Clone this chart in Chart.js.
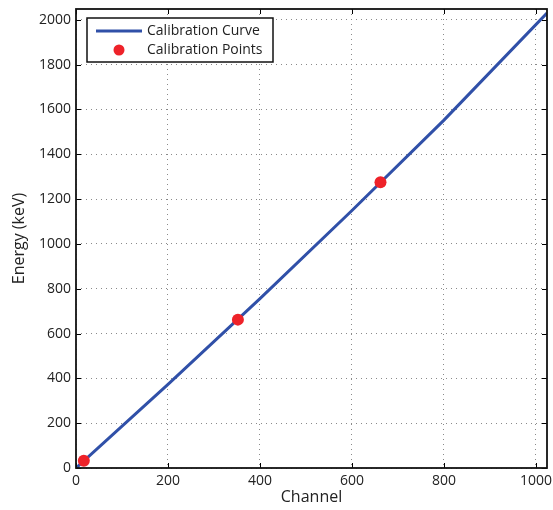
<!DOCTYPE html>
<html>
<head>
<meta charset="utf-8">
<script src="https://cdn.jsdelivr.net/npm/chart.js@4.4.1/dist/chart.umd.min.js"></script>
<style>
  html, body { margin: 0; padding: 0; background: #fff; }
  #wrap { width: 553px; height: 510px; }
</style>
</head>
<body>
<div id="wrap"><canvas id="c" width="553" height="510"></canvas></div>
<script>
// Calibration curve
const curveChannels = [0, 200, 400, 600, 800, 1024];
const curveEnergies = [0, 373, 756, 1149, 1552, 2030];
// Calibration points
const pointChannels = [17, 352, 662];
const pointEnergies = [32, 662, 1275];
// Axis ticks
const xTicks = [0, 200, 400, 600, 800, 1000];
const yTicks = [0, 200, 400, 600, 800, 1000, 1200, 1400, 1600, 1800, 2000];

const FONT = '"Open Sans", "DejaVu Sans", sans-serif';
const BLUE = '#3050a8';
const RED = '#ee2229';

const curveData = curveChannels.map((x, i) => ({ x, y: curveEnergies[i] }));
const pointData = pointChannels.map((x, i) => ({ x, y: pointEnergies[i] }));

const framePlugin = {
  id: 'frame',
  afterDatasetsDraw(chart) {
    const { ctx, chartArea: a, scales } = chart;
    ctx.save();
    ctx.strokeStyle = '#000';
    ctx.lineWidth = 1;
    const tl = 5;
    xTicks.forEach(v => {
      const px = Math.round(scales.x.getPixelForValue(v)) + 0.5;
      ctx.beginPath();
      ctx.moveTo(px, a.bottom); ctx.lineTo(px, a.bottom - tl);
      ctx.moveTo(px, a.top); ctx.lineTo(px, a.top + tl);
      ctx.stroke();
    });
    yTicks.forEach(v => {
      const py = Math.round(scales.y.getPixelForValue(v)) + 0.5;
      ctx.beginPath();
      ctx.moveTo(a.left, py); ctx.lineTo(a.left + tl, py);
      ctx.moveTo(a.right, py); ctx.lineTo(a.right - tl, py);
      ctx.stroke();
    });
    ctx.lineWidth = 1.8;
    ctx.strokeStyle = '#111';
    ctx.strokeRect(a.left, a.top, a.right - a.left, a.bottom - a.top);

    // legend box
    const lx = 87, ly = 18, lw = 186, lh = 44;
    ctx.fillStyle = '#fff';
    ctx.fillRect(lx, ly, lw, lh);
    ctx.lineWidth = 1.5;
    ctx.strokeStyle = '#111';
    ctx.strokeRect(lx, ly, lw, lh);
    const ds = chart.data.datasets;
    ctx.strokeStyle = BLUE;
    ctx.lineWidth = 3;
    ctx.beginPath();
    ctx.moveTo(96, 31); ctx.lineTo(142, 31);
    ctx.stroke();
    ctx.fillStyle = '#222';
    ctx.font = '14px ' + FONT;
    ctx.textBaseline = 'middle';
    ctx.textAlign = 'left';
    ctx.fillText(ds[0].label, 147, 31);
    ctx.fillStyle = RED;
    ctx.beginPath();
    ctx.arc(119, 50, 5.5, 0, Math.PI * 2);
    ctx.fill();
    ctx.fillStyle = '#222';
    ctx.fillText(ds[1].label, 147, 50);
    ctx.restore();
  }
};

new Chart(document.getElementById('c'), {
  type: 'scatter',
  data: {
    datasets: [
      {
        label: 'Calibration Curve',
        data: curveData,
        showLine: true,
        borderColor: BLUE,
        borderWidth: 3,
        pointRadius: 0,
        order: 2
      },
      {
        label: 'Calibration Points',
        data: pointData,
        showLine: false,
        backgroundColor: RED,
        borderColor: RED,
        pointRadius: 6,
        pointBorderWidth: 0,
        order: 1
      }
    ]
  },
  options: {
    responsive: false,
    animation: false,
    events: [],
    layout: { padding: { left: 0, right: 6, top: 9, bottom: 0 } },
    plugins: { legend: { display: false }, tooltip: { enabled: false } },
    scales: {
      x: {
        type: 'linear',
        min: 0,
        max: 1024,
        afterBuildTicks(scale) { scale.ticks = xTicks.map(v => ({ value: v })); },
        afterFit(scale) { scale.height = 42; scale.paddingLeft = 0; scale.paddingRight = 0; },
        grid: { color: '#8a8a8a', lineWidth: 1, drawTicks: false },
        border: { display: false, dash: [1, 4] },
        ticks: { color: '#222', font: { family: FONT, size: 14 }, padding: 5, maxRotation: 0,
                 callback: v => String(v) },
        title: { display: true, text: 'Channel', color: '#222', font: { family: FONT, size: 16 }, padding: { top: 0, bottom: 3 } }
      },
      y: {
        type: 'linear',
        min: 0,
        max: 2048,
        afterBuildTicks(scale) { scale.ticks = yTicks.map(v => ({ value: v })); },
        afterFit(scale) { scale.width = 76; scale.paddingTop = 0; scale.paddingBottom = 0; },
        grid: { color: '#8a8a8a', lineWidth: 1, drawTicks: false },
        border: { display: false, dash: [1, 4] },
        ticks: { color: '#222', font: { family: FONT, size: 14 }, padding: 5,
                 callback: v => String(v) },
        title: { display: true, text: 'Energy (keV)', color: '#222', font: { family: FONT, size: 16 }, padding: { top: 10, bottom: 0 } }
      }
    }
  },
  plugins: [framePlugin]
});
</script>
</body>
</html>
